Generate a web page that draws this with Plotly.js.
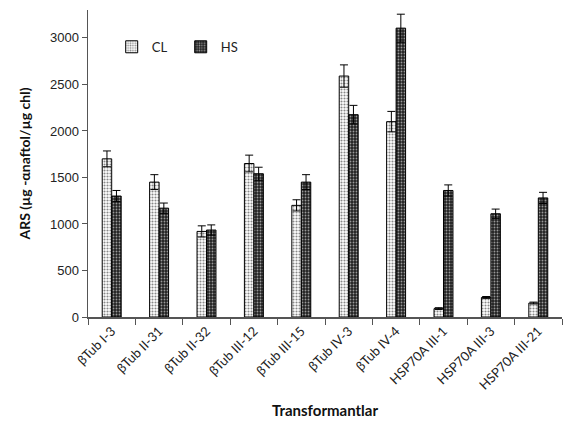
<!DOCTYPE html>
<html><head><meta charset="utf-8">
<script src="https://cdn.plot.ly/plotly-3.0.1.min.js"></script>
<style>body{margin:0;background:#fff}#c{width:566px;height:423px}</style>
</head><body><div id="c"></div>
<script>
const categories = ["βTub I-3","βTub II-31","βTub II-32","βTub III-12","βTub III-15","βTub IV-3","βTub IV-4","HSP70A III-1","HSP70A III-3","HSP70A III-21"];
const clValues = [1700,1450,920,1650,1200,2590,2100,90,210,150];
const clErrors = [85,80,60,90,60,120,110,10,10,10];
const hsValues = [1300,1170,935,1540,1450,2175,3105,1360,1110,1280];
const hsErrors = [60,55,55,70,80,100,150,60,50,60];
const yTicks = [0,500,1000,1500,2000,2500,3000];

const traces = [
 {type:'bar', name:'CL', x:categories, y:clValues,
  error_y:{type:'data', array:clErrors, visible:true, color:'#000', thickness:1, width:4},
  marker:{color:'#fff', line:{color:'#000', width:1},
   pattern:{shape:'.', bgcolor:'#fff', fgcolor:'#888', size:3, solidity:0.4, fillmode:'replace'}}},
 {type:'bar', name:'HS', x:categories, y:hsValues,
  error_y:{type:'data', array:hsErrors, visible:true, color:'#000', thickness:1, width:4},
  marker:{color:'#333', line:{color:'#000', width:1},
   pattern:{shape:'.', bgcolor:'#222', fgcolor:'#999', size:3, solidity:0.3, fillmode:'replace'}}}
];

const layout = {
 width:566, height:423,
 margin:{l:88, r:4, t:10, b:106},
 paper_bgcolor:'#fff', plot_bgcolor:'#fff',
 barmode:'group', bargap:0.6, bargroupgap:0,
 font:{family:'Lato, "Open Sans", sans-serif', color:'#222', size:13},
 showlegend:true,
 legend:{orientation:'h', x:0.05, y:0.88, xanchor:'left', yanchor:'middle',
  font:{size:13, color:'#222'}, bgcolor:'rgba(0,0,0,0)', itemwidth:30,
  entrywidth:24, entrywidthmode:'pixels', traceorder:'normal'},
 xaxis:{type:'category', showline:true, linecolor:'#555', linewidth:1.5,
  ticks:'outside', tickson:'boundaries', ticklen:6, tickcolor:'#555',
  tickangle:-45, tickfont:{size:13, color:'#222'},
  title:{text:'<b>Transformantlar</b>', font:{size:15, color:'#111'}, standoff:14},
  showgrid:false, zeroline:false},
 yaxis:{range:[0,3300], showline:true, linecolor:'#555', linewidth:1.5,
  ticks:'outside', ticklen:5, tickcolor:'#555', tickvals:yTicks,
  tickfont:{family:'"Liberation Sans", Arial, sans-serif', size:13, color:'#222'},
  title:{text:'<b>ARS (µg -αnaftol/µg chl)</b>', font:{size:14, color:'#111'}, standoff:16},
  showgrid:false, zeroline:false}
};
Plotly.newPlot('c', traces, layout, {staticPlot:true, displayModeBar:false});
</script></body></html>
